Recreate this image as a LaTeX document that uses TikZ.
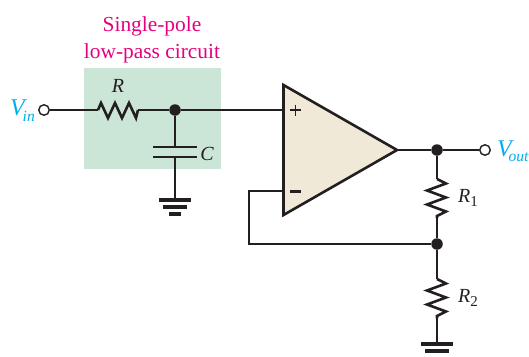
\documentclass[tikz,border=0pt]{standalone}
\usepackage{fontspec}
\usetikzlibrary{calc}
\setmainfont{Liberation Serif}
\definecolor{boxg}{HTML}{CBE5D6}
\definecolor{opf}{HTML}{F0E9D8}
\definecolor{magt}{HTML}{E6007E}
\definecolor{cyant}{HTML}{00AEEF}
\definecolor{ink}{HTML}{231F20}
\tikzset{
  wire/.style={draw=ink,line width=1.4pt},
  res/.style={draw=ink,line width=2.6pt,line join=miter},
  plate/.style={draw=ink,line width=2.6pt},
  gnd/.style={draw=ink,line width=3.2pt},
  dotn/.style={circle,fill=ink,inner sep=0pt,minimum size=11.5pt},
  term/.style={circle,draw=ink,fill=white,line width=1.4pt,inner sep=0pt,minimum size=10.5pt},
  lab/.style={text=ink,font=\fontsize{20}{22}\selectfont\itshape,inner sep=0pt},
  vlab/.style={text=cyant,font=\fontsize{24}{26}\selectfont\itshape,inner sep=0pt},
  subt/.style={text=cyant,font=\fontsize{15.5}{16}\selectfont\itshape,inner sep=0pt},
  title/.style={text=magt,font=\fontsize{21.4}{27}\selectfont,align=center,inner sep=0pt},
}
\begin{document}
\begin{tikzpicture}[x=1pt,y=-1pt]
\useasboundingbox (0,0) rectangle (529,356);
\fill[boxg] (84,68) rectangle (221,169);
\node[title] (ttl) at (152,40) {Single-pole\\low-pass circuit};
% coordinates
\node[term] (vin) at (44,110) {};
\coordinate (ra) at (98,110);
\coordinate (rb) at (138,110);
\node[dotn] (j1) at (175,110) {};
\coordinate (capt) at (175,147);
\coordinate (capb) at (175,157);
\coordinate (g1) at (175,200);
\coordinate (plus) at (283.5,110);
\coordinate (minus) at (283.5,191);
\coordinate (opout) at (397,150);
\node[dotn] (j2) at (437,150) {};
\node[term] (vout) at (485,150) {};
\coordinate (r1a) at (437,179);
\coordinate (r1b) at (437,218);
\node[dotn] (j3) at (437,244) {};
\coordinate (r2a) at (437,279);
\coordinate (r2b) at (437,318);
\coordinate (g2) at (437,344);
\coordinate (fbc) at (249,244);
\coordinate (fbt) at (249,191);
% wires
\draw[wire] (vin) -- (ra);
\draw[wire] (rb) -- (j1);
\draw[wire] (j1) -- (plus);
\draw[wire] (j1) -- (capt);
\draw[wire] (capb) -- (g1);
\draw[wire] (minus) -- (fbt) -- (fbc) -- (j3);
\draw[wire] (opout) -- (j2);
\draw[wire] (j2) -- (vout);
\draw[wire] (j2) -- (r1a);
\draw[wire] (r1b) -- (j3);
\draw[wire] (j3) -- (r2a);
\draw[wire] (r2b) -- (g2);
% resistors
\draw[res] (ra) -- ++(3,-7) -- ++(7,15) -- ++(7,-15) -- ++(7,15) -- ++(7,-15) -- ++(7,15) -- ++(2,-8) -- (rb);
\draw[res] (r1a) -- ++(9,4.5) -- ++(-19,7) -- ++(19,7) -- ++(-19,7) -- ++(19,7) -- ++(-9,4.5) -- (r1b);
\draw[res] (r2a) -- ++(9,4.5) -- ++(-19,7) -- ++(19,7) -- ++(-19,7) -- ++(19,7) -- ++(-9,4.5) -- (r2b);
% capacitor
\draw[plate] ($(capt)+(-22,0)$) -- ($(capt)+(22,0)$);
\draw[plate] ($(capb)+(-22,0)$) -- ($(capb)+(22,0)$);
% grounds
\draw[gnd] ($(g1)+(-16,0)$) -- ($(g1)+(16,0)$);
\draw[gnd] ($(g1)+(-12,7)$) -- ($(g1)+(12,7)$);
\draw[gnd] ($(g1)+(-6,14)$) -- ($(g1)+(6,14)$);
\draw[gnd] ($(g2)+(-16,0)$) -- ($(g2)+(16,0)$);
\draw[gnd] ($(g2)+(-12,7)$) -- ($(g2)+(12,7)$);
% op-amp
\filldraw[fill=opf,draw=ink,line width=2.6pt,line join=miter] (283.5,85) -- (397,150) -- (283.5,215) -- cycle;
\draw[ink,line width=1.2pt] (290,110) -- (301,110) (295.5,104.5) -- (295.5,115.5);
\draw[ink,line width=2.2pt] (290,191.5) -- (301,191.5);
% labels
\node[lab] (lr) at (118,86) {R};
\node[lab] (lc) at (207,154) {C};
\node[lab,anchor=west] (lr1) at (458,198) {R\raisebox{-4pt}{\fontsize{15}{15}\selectfont\upshape 1}};
\node[lab,anchor=west] (lr2) at (458,298) {R\raisebox{-4pt}{\fontsize{15}{15}\selectfont\upshape 2}};
\node[vlab,anchor=west] (lvin) at (10,108) {V};
\node[subt,anchor=west] (lvinsub) at (22.5,116) {in};
\node[vlab,anchor=west] (lvout) at (497,149) {V};
\node[subt,anchor=west] (lvoutsub) at (508.5,157) {out};
\end{tikzpicture}
\end{document}
